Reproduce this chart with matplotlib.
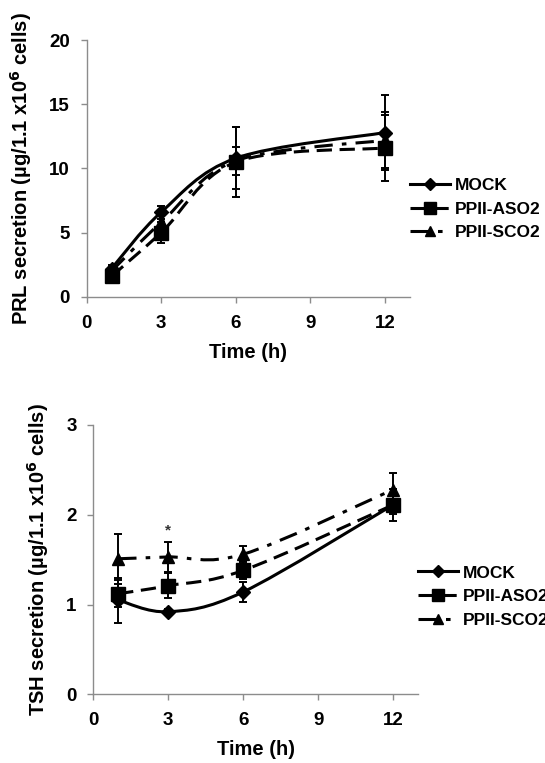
import numpy as np
import matplotlib
matplotlib.use("Agg")
import matplotlib.pyplot as plt
from matplotlib.path import Path
from matplotlib.patches import PathPatch
from matplotlib.lines import Line2D

plt.rcParams['font.family'] = ['Liberation Sans', 'DejaVu Sans']
plt.rcParams['font.weight'] = 'bold'

time_h = [1, 3, 6, 12]
series_names = ['MOCK', 'PPII-ASO2', 'PPII-SCO2']

# PRL secretion
prl_mock = [2.2, 6.6, 10.8, 12.8]
prl_aso2 = [1.6, 5.0, 10.5, 11.6]
prl_sco2 = [2.0, 5.8, 10.6, 12.2]
prl_mock_err = [0.3, 0.5, 2.4, 2.9]
prl_aso2_err = [0.3, 0.8, 2.7, 2.6]
prl_sco2_err = [0.3, 0.6, 1.1, 2.2]

# TSH secretion
tsh_mock = [1.05, 0.92, 1.14, 2.11]
tsh_aso2 = [1.12, 1.21, 1.38, 2.11]
tsh_sco2 = [1.51, 1.53, 1.56, 2.28]
tsh_mock_err = [0.25, 0.03, 0.11, 0.10]
tsh_aso2_err = [0.15, 0.14, 0.10, 0.18]
tsh_sco2_err = [0.28, 0.17, 0.09, 0.19]

markers = ['D', 's', '^']
msizes = [7, 9.5, 8.5]
styles = ['-', (0, (5, 2.5)), (0, (6, 3, 1.5, 3))]
gray = '#8c8c8c'


def smooth_path(x, y):
    # Catmull-Rom style bezier, like Excel's smoothed line
    pts = np.column_stack([x, y]).astype(float)
    ext = np.vstack([pts[0], pts, pts[-1]])
    verts = [pts[0]]
    codes = [Path.MOVETO]
    for i in range(len(pts) - 1):
        p0, p1, p2, p3 = ext[i], ext[i + 1], ext[i + 2], ext[i + 3]
        c1 = p1 + (p2 - p0) / 6.0
        c2 = p2 - (p3 - p1) / 6.0
        verts += [c1, c2, p2]
        codes += [Path.CURVE4] * 3
    return Path(verts, codes)


def panel(ax, ys, errs, ylim, yticks, ylabel, legend_y):
    for y, e, m, ms, ls in zip(ys, errs, markers, msizes, styles):
        ax.add_patch(PathPatch(smooth_path(time_h, y), facecolor='none',
                               edgecolor='black', lw=2.2, linestyle=ls, zorder=2))
        ax.errorbar(time_h, y, yerr=e, fmt='none', ecolor='black',
                    elinewidth=1.4, capsize=3, capthick=1.4, zorder=3)
        ax.plot(time_h, y, linestyle='none', marker=m, ms=ms, color='black', zorder=4)
    ax.set_xlim(0, 13)
    ax.set_ylim(*ylim)
    ax.set_xticks([0, 3, 6, 9, 12])
    ax.set_yticks(yticks)
    for s in ['top', 'right']:
        ax.spines[s].set_visible(False)
    for s in ['left', 'bottom']:
        ax.spines[s].set_color(gray)
        ax.spines[s].set_linewidth(1)
    ax.tick_params(colors=gray, labelcolor='black', labelsize=13.5, length=4, width=1)
    ax.tick_params(axis='x', pad=9)
    ax.tick_params(axis='y', pad=8)
    ax.set_xlabel('Time (h)', fontsize=14.5, fontweight='bold', labelpad=8)
    ax.set_ylabel(ylabel, fontsize=14.5, fontweight='bold', labelpad=11)
    handles = [Line2D([], [], color='black', lw=2.2, linestyle=ls, marker=m, ms=ms * 0.85)
               for m, ms, ls in zip(markers, msizes, styles)]
    ax.legend(handles, series_names, loc='center left', bbox_to_anchor=(1.0, legend_y),
              frameon=False, fontsize=12.5, handlelength=2.3, handletextpad=0.3,
              labelspacing=0.5, borderaxespad=0, borderpad=0)


fig = plt.figure(figsize=(5.45, 7.63), dpi=100)
ax1 = fig.add_axes([0.159, 0.611, 0.593, 0.3364])
ax2 = fig.add_axes([0.171, 0.090, 0.596, 0.353])

panel(ax1, [prl_mock, prl_aso2, prl_sco2], [prl_mock_err, prl_aso2_err, prl_sco2_err],
      (0, 20), [0, 5, 10, 15, 20], 'PRL secretion (µg/1.1 x10$^{\\mathbf{6}}$ cells)', 0.342)
panel(ax2, [tsh_mock, tsh_aso2, tsh_sco2], [tsh_mock_err, tsh_aso2_err, tsh_sco2_err],
      (0, 3), [0, 1, 2, 3], 'TSH secretion (µg/1.1 x10$^{\\mathbf{6}}$ cells)', 0.362)
ax2.text(3, 1.82, '*', ha='center', va='center', fontsize=11, color='#333333')

fig.savefig('out.png', dpi=100)
